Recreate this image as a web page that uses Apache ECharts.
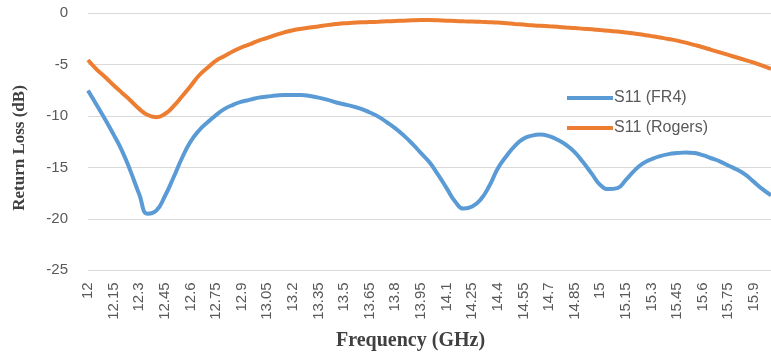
<!DOCTYPE html>
<html>
<head>
<meta charset="utf-8">
<script src="https://cdn.jsdelivr.net/npm/echarts@6/dist/echarts.min.js"></script>
<style>html,body{margin:0;padding:0;background:#fff}#c{width:771px;height:353px}</style>
</head>
<body>
<div id="c"></div>
<script>
var frequencies = [12,12.05,12.1,12.15,12.2,12.25,12.3,12.35,12.4,12.45,12.5,12.55,12.6,12.65,12.7,12.75,12.8,12.85,12.9,12.95,
13,13.05,13.1,13.15,13.2,13.25,13.3,13.35,13.4,13.45,13.5,13.55,13.6,13.65,13.7,13.75,13.8,13.85,13.9,13.95,
14,14.05,14.1,14.15,14.2,14.25,14.3,14.35,14.4,14.45,14.5,14.55,14.6,14.65,14.7,14.75,14.8,14.85,14.9,14.95,
15,15.05,15.1,15.15,15.2,15.25,15.3,15.35,15.4,15.45,15.5,15.55,15.6,15.65,15.7,15.75,15.8,15.85,15.9,15.95,16];

var s11FR4 = [-7.5,-8.9,-10.3,-11.8,-13.4,-15.4,-17.6,-19.5,-19.2,-17.8,
-16.0,-14.1,-12.5,-11.4,-10.6,-9.9,-9.3,-8.9,-8.6,-8.4,
-8.2,-8.1,-8.0,-7.95,-7.95,-7.95,-8.05,-8.2,-8.4,-8.65,
-8.85,-9.05,-9.3,-9.65,-10.05,-10.6,-11.2,-11.9,-12.7,-13.6,
-14.5,-15.7,-17.0,-18.3,-19.0,-18.8,-18.1,-16.8,-15.1,-13.9,
-12.9,-12.2,-11.9,-11.8,-11.95,-12.3,-12.8,-13.5,-14.5,-15.6,
-16.7,-17.1,-17.0,-16.2,-15.3,-14.6,-14.2,-13.9,-13.7,-13.6,
-13.55,-13.6,-13.8,-14.1,-14.4,-14.8,-15.2,-15.7,-16.4,-17.1,-17.7];

var s11Rogers = [-4.55,-5.45,-6.2,-7.0,-7.75,-8.5,-9.3,-9.9,-10.1,-9.8,
-9.05,-8.1,-7.1,-6.05,-5.3,-4.6,-4.15,-3.7,-3.3,-3.0,
-2.65,-2.4,-2.1,-1.85,-1.65,-1.5,-1.38,-1.28,-1.15,-1.05,
-0.97,-0.92,-0.88,-0.85,-0.82,-0.78,-0.75,-0.72,-0.68,-0.66,
-0.66,-0.68,-0.72,-0.75,-0.78,-0.8,-0.83,-0.86,-0.9,-0.96,
-1.03,-1.1,-1.17,-1.22,-1.27,-1.32,-1.38,-1.43,-1.5,-1.56,
-1.63,-1.7,-1.78,-1.87,-1.97,-2.08,-2.22,-2.36,-2.5,-2.66,
-2.85,-3.07,-3.3,-3.55,-3.8,-4.05,-4.3,-4.55,-4.8,-5.1,-5.4];

var seriesNames = ['S11 (FR4)', 'S11 (Rogers)'];
var yTicks = [-25, -20, -15, -10, -5, 0];
var xTitle = 'Frequency (GHz)';
var yTitle = 'Return Loss (dB)';

var chart = echarts.init(document.getElementById('c'), null, {renderer: 'canvas'});
chart.setOption({
  animation: false,
  backgroundColor: '#ffffff',
  grid: {left: 88, right: -2, top: 13.3, bottom: 82.7, containLabel: false},
  legend: {
    orient: 'vertical',
    left: 562,
    top: 85,
    itemWidth: 46,
    itemHeight: 4,
    itemGap: 14,
    icon: 'rect',
    data: seriesNames,
    textStyle: {color: '#595959', fontSize: 16, fontFamily: 'Liberation Sans', padding: [0, 0, 0, -4]}
  },
  xAxis: {
    type: 'category',
    data: frequencies.map(String),
    boundaryGap: false,
    axisLine: {show: false},
    axisTick: {show: false},
    axisLabel: {
      interval: 2,
      rotate: 90,
      margin: 12,
      color: '#595959',
      fontSize: 15,
      fontFamily: 'Liberation Sans'
    },
    splitLine: {show: false}
  },
  yAxis: {
    type: 'value',
    min: yTicks[0],
    max: yTicks[yTicks.length - 1],
    interval: 5,
    axisLine: {show: false},
    axisTick: {show: false},
    axisLabel: {margin: 20, color: '#595959', fontSize: 15, fontFamily: 'Liberation Sans'},
    splitLine: {lineStyle: {color: '#d9d9d9', width: 1}}
  },
  graphic: [
    {type: 'text', left: 431 - 95, top: 331, style: {text: xTitle, fill: '#404040', font: 'bold 20px "Liberation Serif"', width: 190, align: 'center'}},
    {type: 'text', x: 20, y: 148, rotation: Math.PI / 2, style: {text: yTitle, fill: '#404040', font: 'bold 17px "Liberation Serif"', align: 'center', verticalAlign: 'middle'}}
  ],
  series: [
    {name: seriesNames[0], type: 'line', data: s11FR4, smooth: 0.5, showSymbol: false, lineStyle: {color: '#5b9bd5', width: 4}, itemStyle: {color: '#5b9bd5'}},
    {name: seriesNames[1], type: 'line', data: s11Rogers, smooth: 0.5, showSymbol: false, lineStyle: {color: '#ed7d31', width: 4}, itemStyle: {color: '#ed7d31'}}
  ]
});
</script>
</body>
</html>
